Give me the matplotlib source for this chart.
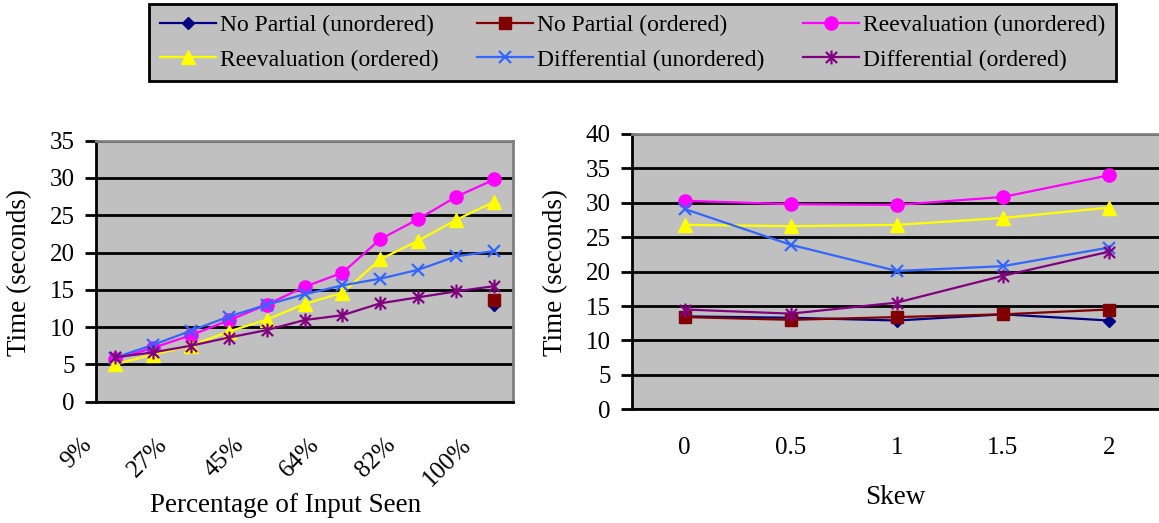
import numpy as np
import matplotlib
matplotlib.use("Agg")
import matplotlib.pyplot as plt
from matplotlib.path import Path
from matplotlib import transforms

plt.rcParams['font.family'] = ['Liberation Serif', 'DejaVu Serif']

# ---------------- data ----------------
pct_labels = ["9%", "18%", "27%", "36%", "45%", "55%", "64%", "73%", "82%", "91%", "100%"]
nan = np.nan
left_np_unord = [nan, nan, nan, nan, nan, nan, nan, nan, nan, nan, 13.0]
left_np_ord = [nan, nan, nan, nan, nan, nan, nan, nan, nan, nan, 13.6]
left_re_unord = [5.7, 7.2, 8.9, 10.9, 13.0, 15.4, 17.3, 21.8, 24.5, 27.5, 29.8]
left_re_ord = [5.0, 6.3, 7.5, 9.4, 11.0, 13.1, 14.6, 19.1, 21.6, 24.4, 26.8]
left_df_unord = [5.9, 7.6, 9.5, 11.4, 13.0, 14.4, 15.6, 16.5, 17.7, 19.5, 20.2]
left_df_ord = [5.95, 6.6, 7.5, 8.6, 9.6, 10.95, 11.6, 13.2, 14.0, 14.8, 15.5]

skew_labels = ["0", "0.5", "1", "1.5", "2"]
right_np_unord = [13.5, 13.3, 12.9, 13.8, 12.9]
right_np_ord = [13.4, 13.0, 13.4, 13.8, 14.5]
right_re_unord = [30.3, 29.8, 29.7, 30.85, 34.0]
right_re_ord = [26.8, 26.6, 26.8, 27.8, 29.3]
right_df_unord = [29.1, 23.9, 20.1, 20.8, 23.5]
right_df_ord = [14.5, 13.9, 15.5, 19.4, 22.9]

series_names = ["No Partial (unordered)", "No Partial (ordered)", "Reevaluation (unordered)",
                "Reevaluation (ordered)", "Differential (unordered)", "Differential (ordered)"]

# ---------------- styles ----------------
star = Path([(-1, -1), (1, 1), (-1, 1), (1, -1), (0, -1.25), (0, 1.25)],
            [Path.MOVETO, Path.LINETO, Path.MOVETO, Path.LINETO, Path.MOVETO, Path.LINETO])
styles = [
    dict(color="#000080", marker="D", markersize=6.5, mec="#000080", mfc="#000080"),
    dict(color="#800000", marker="s", markersize=8, mec="#800000", mfc="#800000"),
    dict(color="#FF00FF", marker="o", markersize=9.5, mec="#FF00FF", mfc="#FF00FF"),
    dict(color="#FFFF00", marker="^", markersize=9.5, mec="#FFFF00", mfc="#FFFF00"),
    dict(color="#3366FF", marker="x", markersize=9, mec="#3366FF", mew=1.6),
    dict(color="#800080", marker=star, markersize=10, mec="#800080", mew=1.6),
]

W, H = 1159, 523
fig = plt.figure(figsize=(W / 100, H / 100), dpi=100)

def px_axes(x0, x1, ytop, ybot):
    return fig.add_axes([x0 / W, 1 - ybot / H, (x1 - x0) / W, (ybot - ytop) / H])

axL = px_axes(95.7, 513.3, 140.7, 401.7)
axR = px_axes(631.7, 1162.0, 134.0, 409.3)

TICK_FS = 18
LABEL_FS = 19.5

def style_axes(ax, ymax):
    ax.set_facecolor("#C0C0C0")
    ax.set_ylim(0, ymax)
    ax.set_yticks(np.arange(0, ymax + 1, 5))
    ax.yaxis.grid(True, color="black", linewidth=2.0)
    ax.set_axisbelow(True)
    for s in ["top", "right"]:
        ax.spines[s].set_color("#808080")
        ax.spines[s].set_linewidth(2.0)
    for s in ["left", "bottom"]:
        ax.spines[s].set_color("black")
        ax.spines[s].set_linewidth(2.0)
    ax.tick_params(axis="y", direction="out", length=8, width=2, labelsize=TICK_FS, pad=7)
    ax.tick_params(axis="x", length=0, labelsize=TICK_FS)

# Left
xl = np.arange(len(pct_labels))
for data, st, name in zip([left_np_unord, left_np_ord, left_re_unord, left_re_ord, left_df_unord, left_df_ord],
                          styles, series_names):
    axL.plot(xl, data, linewidth=1.6, label=name, clip_on=False, **st)
style_axes(axL, 35)
axL.set_xlim(-0.5, len(pct_labels) - 0.5)
axL.set_xticks([])
# every other category label, rotated 45 degrees, anchored below each category
base = transforms.blended_transform_factory(axL.transData, axL.transAxes)
off = transforms.ScaledTranslation(-34 / 100, -32 / 100, fig.dpi_scale_trans)
for i in range(0, len(pct_labels), 2):
    axL.text(xl[i], 0, pct_labels[i], transform=base + off, rotation=45, ha="right", va="top",
             rotation_mode="anchor", fontsize=TICK_FS, clip_on=False)

# Right
xr = np.arange(len(skew_labels))
handles = []
for data, st, name in zip([right_np_unord, right_np_ord, right_re_unord, right_re_ord, right_df_unord, right_df_ord],
                          styles, series_names):
    h, = axR.plot(xr, data, linewidth=1.6, label=name, clip_on=False, **st)
    handles.append(h)
style_axes(axR, 40)
axR.set_xlim(-0.5, len(skew_labels) - 0.5)
axR.set_xticks(xr)
axR.set_xticklabels(skew_labels, fontsize=TICK_FS)
axR.tick_params(axis="x", pad=20)
axR.spines["right"].set_visible(False)

# Axis labels
fig.text(20 / W, 1 - 272 / H, "Time (seconds)", rotation=90, ha="center", va="center", fontsize=LABEL_FS)
fig.text(286 / W, 1 - 506 / H, "Percentage of Input Seen", ha="center", va="center", fontsize=LABEL_FS)
fig.text(556 / W, 1 - 272 / H, "Time (seconds)", rotation=90, ha="center", va="center", fontsize=LABEL_FS)
fig.text(895 / W, 1 - 497 / H, "Skew", ha="center", va="center", fontsize=LABEL_FS)

# Legend (row-wise order like the reference)
order = [0, 3, 1, 4, 2, 5]
leg = fig.legend(handles=[handles[i] for i in order], loc="upper left", bbox_to_anchor=(149 / W, 1 - 4 / H),
                 ncol=3, fontsize=17, frameon=True, fancybox=False, facecolor="#C0C0C0",
                 edgecolor="black", framealpha=1, handlelength=2.37, handletextpad=0.2,
                 columnspacing=1.6, labelspacing=0.55, borderpad=0.45, borderaxespad=0,
                 numpoints=1)
leg.get_frame().set_linewidth(2)

fig.savefig("out.png", dpi=100)
